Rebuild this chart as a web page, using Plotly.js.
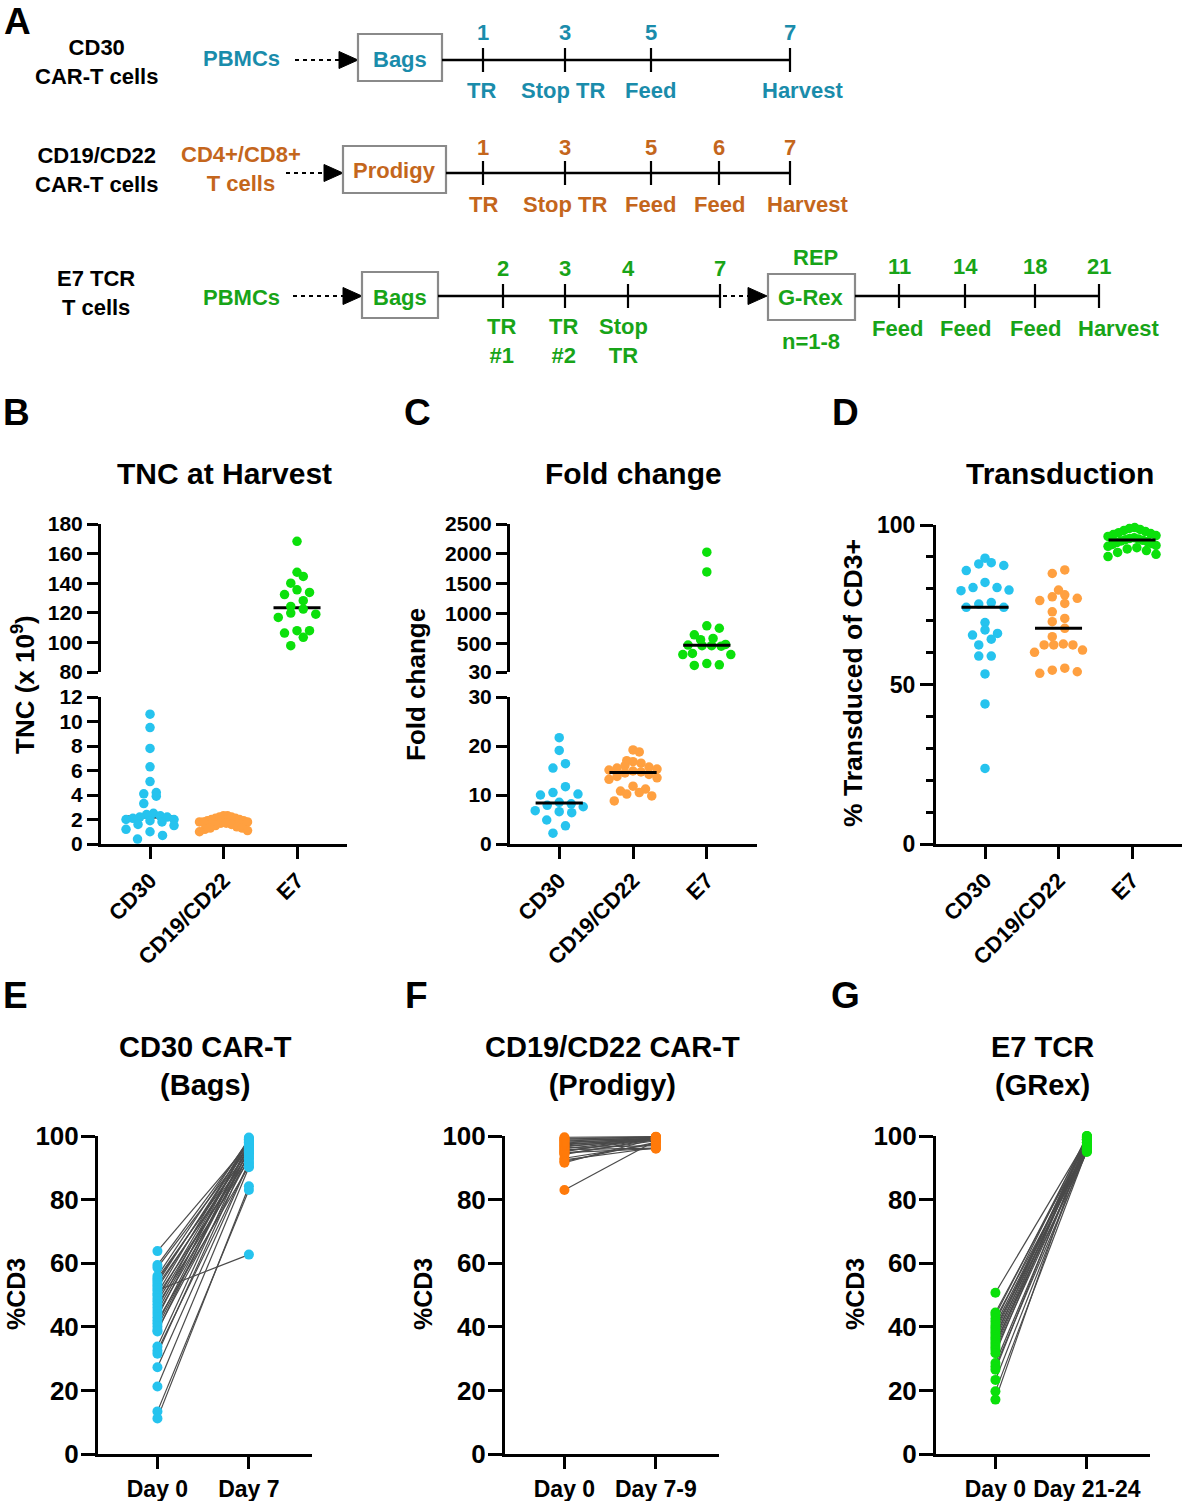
<!DOCTYPE html>
<html><head><meta charset="utf-8">
<script src="https://cdn.plot.ly/plotly-3.0.1.min.js"></script>
<style>html,body{margin:0;padding:0;background:#fff}#chart{width:1184px;height:1501px}</style>
</head><body><div id="chart"></div>
<script>
// ---------------- DATA ----------------
const groups = ['CD30', 'CD19/CD22', 'E7'];

// B: TNC at harvest (x 10^9)
const tncCD30   = [10.6, 9.5, 7.8, 6.3, 5.1, 4.2, 4.1, 3.9, 3.3, 2.5, 2.4, 2.3, 2.2, 2.2, 2.1, 2.0, 2.0, 1.9, 1.8, 1.6, 1.5, 1.2, 1.0, 0.7, 0.4];
const tncCD1922 = [2.3, 2.3, 2.2, 2.2, 2.1, 2.1, 2.0, 2.0, 1.9, 1.9, 1.8, 1.8, 1.8, 1.7, 1.7, 1.6, 1.5, 1.4, 1.3, 1.3, 1.2, 1.1, 1.0];
const tncE7     = [168.3, 147.4, 144.6, 140.0, 135.5, 133.8, 132.3, 128.2, 124.3, 122.5, 119.8, 119.1, 116.9, 107.9, 107.9, 106.3, 103.4, 97.8];

// C: Fold change
const foldCD30   = [21.7, 19.1, 16.4, 15.5, 11.7, 10.5, 10.2, 10.0, 8.5, 8.2, 7.9, 7.6, 6.8, 6.6, 6.4, 4.9, 3.7, 2.2];
const foldCD1922 = [19.2, 18.8, 17.0, 16.8, 16.5, 16.0, 15.7, 15.5, 15.3, 15.1, 14.9, 14.7, 14.5, 14.2, 13.8, 13.5, 13.2, 11.8, 11.2, 10.8, 10.5, 10.2, 9.8, 8.8];
const foldE7     = [2030, 1700, 800, 760, 650, 590, 570, 490, 480, 470, 470, 460, 340, 320, 320, 170, 150, 140];

// D: % transduced of CD3+
const transCD30   = [89.6, 88.2, 87.8, 87.3, 85.7, 82.0, 80.4, 80.4, 79.6, 79.4, 75.7, 75.2, 74.2, 74.2, 69.4, 67.1, 66.0, 65.5, 64.2, 62.4, 58.9, 58.9, 53.3, 43.9, 23.7];
const transCD1922 = [85.9, 84.8, 79.6, 78.1, 77.5, 77.0, 76.3, 75.4, 72.8, 70.7, 69.7, 67.6, 65.0, 62.7, 62.4, 62.4, 62.4, 60.8, 60.1, 55.1, 54.5, 54.0, 53.5];
const transE7     = [99.2, 98.9, 98.6, 98.3, 98.0, 97.6, 97.3, 97.0, 96.7, 96.4, 96.0, 95.8, 95.6, 95.4, 95.2, 95.0, 94.8, 94.5, 94.2, 93.9, 93.6, 93.3, 92.9, 92.5, 92.0, 91.4, 90.8, 90.1];

// E: CD30 CAR-T (Bags) %CD3, paired
const eDays = ['Day 0', 'Day 7'];
const eDay0 = [63.8, 59.4, 58.6, 56.0, 55.2, 54.5, 53.8, 53.0, 52.2, 51.5, 50.5, 49.8, 48.8, 48.0, 47.0, 46.0, 45.0, 44.0, 43.0, 42.0, 41.0, 40.0, 39.0, 38.5, 33.8, 32.5, 31.5, 27.3, 21.2, 13.4, 11.2];
const eDay7 = [97.5, 98.5, 96.8, 99.0, 95.5, 97.0, 98.2, 94.5, 96.0, 62.7, 99.2, 93.5, 97.8, 95.0, 92.5, 98.8, 96.5, 94.0, 99.5, 90.5, 97.2, 95.8, 93.0, 98.0, 96.2, 91.5, 94.8, 91.5, 90.2, 83.0, 84.2];

// F: CD19/CD22 CAR-T (Prodigy) %CD3, paired
const fDays = ['Day 0', 'Day 7-9'];
const fDay0 = [99.6, 99.3, 99.0, 98.7, 98.4, 98.1, 97.8, 97.5, 97.2, 96.9, 96.6, 96.3, 96.0, 95.7, 95.4, 95.1, 94.8, 94.5, 94.2, 93.0, 92.5, 92.0, 91.6, 83.0];
const fDay7 = [99.8, 99.5, 99.7, 99.2, 99.6, 99.0, 99.4, 98.8, 99.3, 98.6, 99.5, 97.0, 99.1, 96.2, 98.9, 99.6, 96.0, 98.5, 99.0, 97.5, 96.3, 98.0, 99.2, 98.5];

// G: E7 TCR (GRex) %CD3, paired
const gDays = ['Day 0', 'Day 21-24'];
const gDay0  = [50.7, 44.5, 43.7, 42.5, 41.6, 40.6, 39.8, 39.0, 38.2, 37.4, 36.6, 35.9, 35.1, 34.3, 33.5, 32.7, 31.7, 28.6, 27.5, 26.5, 23.3, 19.7, 17.1];
const gDay21 = [99.0, 98.0, 99.5, 96.0, 100.0, 97.0, 95.5, 99.0, 98.5, 96.5, 100.0, 97.5, 95.0, 99.2, 98.0, 96.0, 99.8, 97.0, 95.2, 98.8, 96.2, 95.5, 99.5];

// A: schematic text content
const rowNames   = ['CD30<br>CAR-T cells', 'CD19/CD22<br>CAR-T cells', 'E7 TCR<br>T cells'];
const rowInputs  = ['PBMCs', 'CD4+/CD8+<br>T cells', 'PBMCs'];
const rowVessels = ['Bags', 'Prodigy', 'Bags'];
const row1Days = ['1', '3', '5', '7'];
const row1Steps = ['TR', 'Stop TR', 'Feed', 'Harvest'];
const row2Days = ['1', '3', '5', '6', '7'];
const row2Steps = ['TR', 'Stop TR', 'Feed', 'Feed', 'Harvest'];
const row3Days = ['2', '3', '4', '7'];
const row3Steps = ['TR<br>#1', 'TR<br>#2', 'Stop<br>TR'];
const repDays = ['11', '14', '18', '21'];
const repSteps = ['Feed', 'Feed', 'Feed', 'Harvest'];

// ---------------- STYLE / GEOMETRY ----------------
const W = 1184, H = 1501;
const FONT = 'Arial, "Liberation Sans", sans-serif';
const C_BLUE = '#26C3EE', C_ORANGE = '#FFA040', C_ORANGE2 = '#FF7A0A', C_GREEN = '#0BE00B';
const C_TEAL = '#1A8CAB', C_BROWN = '#C4661C', C_DGREEN = '#18A418';
const px = x => x / W;
const py = y => 1 - y / H;

const catRange = [-0.667, 2.68];
const pairRange = [-0.65, 1.69];

function tf(size) { return {family: FONT, size: size, color: '#000', weight: 'bold'}; }
function baseAxis(extra) {
  return Object.assign({
    showline: true, linecolor: '#000', linewidth: 3,
    ticks: 'outside', ticklen: 11, tickwidth: 3, tickcolor: '#000',
    showgrid: false, zeroline: false, fixedrange: true,
    tickfont: tf(21)
  }, extra);
}

const G = {
  B:  {x0: 101, x1: 347},
  C:  {x0: 510, x1: 757},
  D:  {x0: 936, x1: 1182},
  E:  {x0: 98, x1: 312},
  F:  {x0: 505, x1: 719},
  Gp: {x0: 936, x1: 1150},
  low: {t: 697, b: 844}, up: {t: 524, b: 672}, full: {t: 525, b: 844},
  pair: {t: 1136, b: 1454}
};

const catX = (dom, axY) => baseAxis({domain: [px(dom.x0), px(dom.x1)], range: catRange, anchor: axY, tickvals: [0,1,2], ticktext: groups, tickangle: -45, ticklen: 12, tickfont: tf(22)});
const pairX = (dom, axY, labels) => baseAxis({domain: [px(dom.x0), px(dom.x1)], range: pairRange, anchor: axY, tickvals: [0,1], ticktext: labels, ticklen: 12, tickfont: tf(23)});
const pairY = (axX) => baseAxis({domain: [py(G.pair.b), py(G.pair.t)], range: [0, 100], anchor: axX, tickvals: [0,20,40,60,80,100], ticklen: 14, tickfont: tf(26), ticklabelstandoff: -3});

const layout = {
  width: W, height: H, margin: {l: 0, r: 0, t: 0, b: 0},
  paper_bgcolor: '#fff', plot_bgcolor: 'rgba(0,0,0,0)',
  showlegend: false,
  font: {family: FONT, color: '#000', weight: 'bold'},
  xaxis:  catX(G.B, 'y'),
  yaxis:  baseAxis({domain: [py(G.low.b), py(G.low.t)], range: [0, 12], anchor: 'x', tickvals: [0,2,4,6,8,10,12]}),
  yaxis2: baseAxis({domain: [py(G.up.b), py(G.up.t)], range: [80, 180], anchor: 'x', tickvals: [80,100,120,140,160,180]}),
  xaxis2: catX(G.C, 'y3'),
  yaxis3: baseAxis({domain: [py(G.low.b), py(G.low.t)], range: [0, 30], anchor: 'x2', tickvals: [0,10,20,30]}),
  yaxis4: baseAxis({domain: [py(G.up.b), py(G.up.t)], range: [30, 2500], anchor: 'x2', tickvals: [30,500,1000,1500,2000,2500]}),
  xaxis3: catX(G.D, 'y5'),
  yaxis5: baseAxis({domain: [py(G.full.b), py(G.full.t)], range: [0, 100], anchor: 'x3', tickvals: [0,50,100], ticklen: 13,
           tickfont: tf(23),
           minor: {tickmode: 'linear', tick0: 0, dtick: 10, ticks: 'outside', ticklen: 7, tickwidth: 3, tickcolor: '#000'}}),
  xaxis4: pairX(G.E, 'y6', eDays),
  yaxis6: pairY('x4'),
  xaxis5: pairX(G.F, 'y7', fDays),
  yaxis7: pairY('x5'),
  xaxis6: pairX(G.Gp, 'y8', gDays),
  yaxis8: pairY('x6'),
  shapes: [], annotations: []
};

// ---------------- SWARM (Prism-like row layout) ----------------
function pxPerUnit(ax) { const [a, b] = ax.domain; return (b - a) * H / (ax.range[1] - ax.range[0]); }
function pxPerCat(ax) { const [a, b] = ax.domain; return (b - a) * W / (ax.range[1] - ax.range[0]); }
function swarmX(vals, cat, ppu, ppc) {
  const binH = 9, sp = 12.5, maxHalf = 24;
  const order = vals.map((v, i) => i).sort((a, b) => vals[a] - vals[b]);
  const xs = new Array(vals.length);
  let bin = [], start = null;
  const flush = () => {
    const m = bin.length;
    const s = m > 1 ? Math.min(sp, 2 * maxHalf / (m - 1)) : 0;
    const slots = bin.map((_, k) => (k - (m - 1) / 2) * s);
    const seq = [];
    let l = 0, r = m - 1;
    while (l <= r) { seq.push(slots[l++]); if (l <= r) seq.push(slots[r--]); }
    bin.forEach((idx, k) => { xs[idx] = cat + seq[k] / ppc; });
    bin = [];
  };
  order.forEach(i => {
    const p = vals[i] * ppu;
    if (start === null || p - start >= binH) { if (bin.length) flush(); start = p; }
    bin.push(i);
  });
  flush();
  return xs;
}
function median(v) {
  const s = v.slice().sort((a, b) => a - b), n = s.length;
  return n % 2 ? s[(n - 1) / 2] : (s[n / 2 - 1] + s[n / 2]) / 2;
}

const traces = [];
function axOf(id, letter) { return layout[(id === letter ? letter + 'axis' : letter + 'axis' + id.slice(1))]; }
function dots(vals, cat, xa, ya, color) {
  traces.push({type: 'scatter', mode: 'markers', xaxis: xa, yaxis: ya, cliponaxis: false, hoverinfo: 'y',
    x: swarmX(vals, cat, pxPerUnit(axOf(ya, 'y')), pxPerCat(axOf(xa, 'x'))), y: vals,
    marker: {size: 9.5, color: color, line: {width: 0}}});
}
function medLine(vals, cat, xa, ya) {
  const m = median(vals);
  traces.push({type: 'scatter', mode: 'lines', xaxis: xa, yaxis: ya, cliponaxis: false, hoverinfo: 'skip',
    x: [cat - 0.32, cat + 0.32], y: [m, m], line: {color: '#000', width: 3}});
}
// B (median lines beneath the dots)
medLine(tncCD30, 0, 'x', 'y'); medLine(tncCD1922, 1, 'x', 'y'); medLine(tncE7, 2, 'x', 'y2');
dots(tncCD30, 0, 'x', 'y', C_BLUE); dots(tncCD1922, 1, 'x', 'y', C_ORANGE); dots(tncE7, 2, 'x', 'y2', C_GREEN);
// C
dots(foldCD30, 0, 'x2', 'y3', C_BLUE); dots(foldCD1922, 1, 'x2', 'y3', C_ORANGE); dots(foldE7, 2, 'x2', 'y4', C_GREEN);
medLine(foldCD30, 0, 'x2', 'y3'); medLine(foldCD1922, 1, 'x2', 'y3'); medLine(foldE7, 2, 'x2', 'y4');
// D
dots(transCD30, 0, 'x3', 'y5', C_BLUE); dots(transCD1922, 1, 'x3', 'y5', C_ORANGE); dots(transE7, 2, 'x3', 'y5', C_GREEN);
medLine(transCD30, 0, 'x3', 'y5'); medLine(transCD1922, 1, 'x3', 'y5'); medLine(transE7, 2, 'x3', 'y5');

// E-G paired
function paired(d0, d1, xa, ya, color) {
  const lx = [], ly = [];
  d0.forEach((v, i) => { lx.push(0, 1, null); ly.push(v, d1[i], null); });
  traces.push({type: 'scatter', mode: 'lines', xaxis: xa, yaxis: ya, x: lx, y: ly, connectgaps: false, hoverinfo: 'skip',
    line: {color: '#4a4a4a', width: 1.2}, cliponaxis: false});
  traces.push({type: 'scatter', mode: 'markers', xaxis: xa, yaxis: ya, x: d0.map(() => 0), y: d0, cliponaxis: false,
    marker: {size: 10, color: color}});
  traces.push({type: 'scatter', mode: 'markers', xaxis: xa, yaxis: ya, x: d1.map(() => 1), y: d1, cliponaxis: false,
    marker: {size: 10, color: color}});
}
paired(eDay0, eDay7, 'x4', 'y6', C_BLUE);
paired(fDay0, fDay7, 'x5', 'y7', C_ORANGE2);
paired(gDay0, gDay21, 'x6', 'y8', C_GREEN);

// ---------------- ANNOTATIONS ----------------
const A = layout.annotations, S = layout.shapes;
function txt(x, y, text, size, color, extra) {
  A.push(Object.assign({xref: 'paper', yref: 'paper', x: px(x), y: py(y), text: text, showarrow: false,
    xanchor: 'center', yanchor: 'middle', font: {family: FONT, size: size, color: color || '#000', weight: 'bold'}}, extra || {}));
}
// panel letters
[['A', 17, 22], ['B', 16, 413], ['C', 418, 413], ['D', 846, 413], ['E', 15, 995], ['F', 416, 995], ['G', 846, 995]]
  .forEach(([t, x, y]) => txt(x, y, t, 37));
// titles
txt(224, 473, 'TNC at Harvest', 30);
txt(633, 473, 'Fold change', 30);
txt(1060, 473, 'Transduction', 30);
txt(205, 1066, 'CD30 CAR-T<br>(Bags)', 29);
txt(612, 1066, 'CD19/CD22 CAR-T<br>(Prodigy)', 29);
txt(1042, 1066, 'E7 TCR<br>(GRex)', 29);
// axis titles
txt(23, 685, 'TNC (x 10<sup>9</sup>)', 26, '#000', {textangle: -90});
txt(416, 685, 'Fold change', 26, '#000', {textangle: -90});
txt(853, 683, '% Transduced of CD3+', 26.5, '#000', {textangle: -90});
txt(16, 1294, '%CD3', 25, '#000', {textangle: -90});
txt(423, 1294, '%CD3', 25, '#000', {textangle: -90});
txt(855, 1294, '%CD3', 25, '#000', {textangle: -90});

// ---------------- PANEL A SCHEMATIC ----------------
const fsA = 22;
function line(x0, y0, x1, y1, w, dash, color) {
  S.push({type: 'line', xref: 'paper', yref: 'paper', x0: px(x0), y0: py(y0), x1: px(x1), y1: py(y1),
    line: {color: color || '#000', width: w, dash: dash || 'solid'}});
}
function box(x0, y0, x1, y1) {
  S.push({type: 'rect', xref: 'paper', yref: 'paper', x0: px(x0), y0: py(y0), x1: px(x1), y1: py(y1),
    line: {color: '#8a8a8a', width: 2.2}, fillcolor: 'rgba(0,0,0,0)'});
}
function dashArrow(x0, x1, y) {
  line(x0, y, x1 - 17, y, 2, '4px,4px');
  S.push({type: 'path', xref: 'paper', yref: 'paper', fillcolor: '#000', line: {color: '#000', width: 1},
    path: `M ${px(x1 - 19)},${py(y - 8.5)} L ${px(x1)},${py(y)} L ${px(x1 - 19)},${py(y + 8.5)} Z`});
}
function timeline(x0, x1, y, ticks, nums, numY, steps, stepX, stepY, color) {
  line(x0, y, x1, y, 2.5);
  ticks.forEach((tx, i) => {
    line(tx, y - 12, tx, y + 12, 2.2);
    txt(tx, numY, nums[i], fsA, color);
  });
  steps.forEach((s, i) => txt(stepX[i], stepY, s, fsA, color));
}
const rowCols = [C_TEAL, C_BROWN, C_DGREEN];
const rowGeom = [
  {nameY: 62, inY: 58, ar: [295, 358], arY: 60, box: [358, 34, 442, 81], vY: 59},
  {nameY: 170, inY: 169, ar: [286, 343], arY: 173, box: [343, 146, 446, 193], vY: 171},
  {nameY: 293, inY: 297, ar: [293, 362], arY: 296, box: [362, 272, 438, 318], vY: 297}
];
rowGeom.forEach((g, i) => {
  txt(96, g.nameY, rowNames[i], fsA, '#000');
  txt(241, g.inY, rowInputs[i], fsA, rowCols[i]);
  dashArrow(g.ar[0], g.ar[1], g.arY);
  box(g.box[0], g.box[1], g.box[2], g.box[3]);
  txt((g.box[0] + g.box[2]) / 2, g.vY, rowVessels[i], fsA, rowCols[i]);
});
timeline(442, 790, 60, [483, 565, 651, 790], row1Days, 32, row1Steps, [481, 563, 651, 802], 91, C_TEAL);
timeline(446, 790, 173, [483, 565, 651, 719, 790], row2Days, 147, row2Steps, [483, 565, 651, 719, 807], 204, C_BROWN);
timeline(438, 720, 296, [503, 565, 628, 720], row3Days, 268, row3Steps, [501, 563, 624], 341, C_DGREEN);
dashArrow(723, 767, 296);
box(768, 274, 855, 320);
txt(811, 298, 'G-Rex', fsA, C_DGREEN);
txt(815, 258, 'REP', fsA, C_DGREEN);
txt(811, 341, 'n=1-8', fsA, C_DGREEN);
timeline(855, 1099, 296, [899, 965, 1035, 1099], repDays, 266, repSteps, [897, 965, 1035, 1118], 328, C_DGREEN);

Plotly.newPlot('chart', traces, layout, {staticPlot: true, displayModeBar: false});
</script>
</body></html>
